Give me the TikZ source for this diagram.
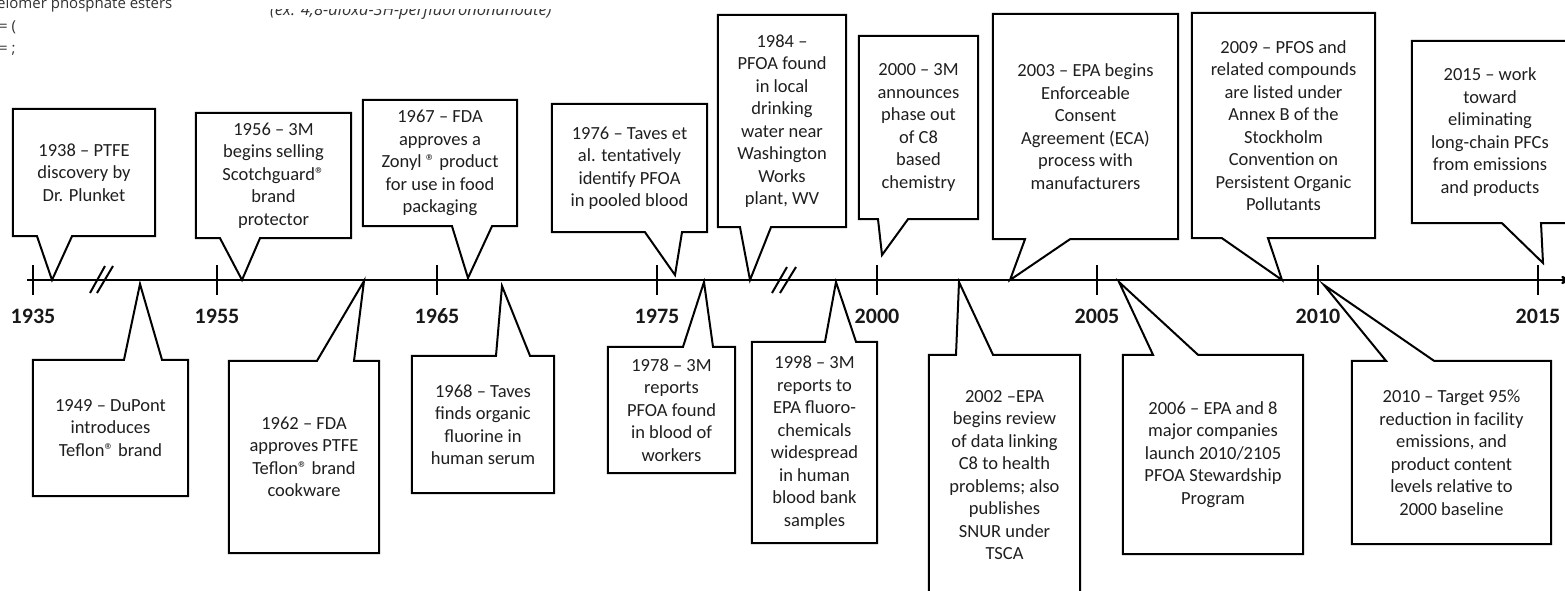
\documentclass[tikz,border=0pt]{standalone}
\usepackage{fontspec}
\setmainfont{Carlito}
\newfontfamily\scrapfont{Open Sans}
\usepackage{tikz}
\usetikzlibrary{positioning, arrows.meta, arrows}

\newcommand{\abovecallout}[4]{\draw[outline] (#1.south west) -- (#2,0 |- #1.south) -- (#4) -- (#3,0 |- #1.south) -- (#1.south east) -- (#1.north east) -- (#1.north west) -- cycle;}
\newcommand{\belowcallout}[4]{\draw[outline] (#1.north west) -- (#2,0 |- #1.north) -- (#4) -- (#3,0 |- #1.north) -- (#1.north east) -- (#1.south east) -- (#1.south west) -- cycle;}

\begin{document}
\begin{tikzpicture}[x=1pt,y=-1pt,>=stealth',
    outline/.style={line width=2pt,line join=miter},
    event/.style={inner sep=0pt,align=center,text=black!88,font=\fontsize{18.5}{22.5}\selectfont},
    year/.style={inner sep=0pt,text height=14pt,text depth=0pt,text=black!90,font=\fontsize{22}{24}\selectfont\bfseries},
    tick/.style={line width=2pt},
    scrap/.style={inner sep=0pt,text=black!80,font=\scrapfont\fontsize{15}{17}\selectfont}]
    \useasboundingbox[fill=white] (0,0) rectangle (1565,590);

    \node[scrap,anchor=base west] (frag1) at (-3,8) {elomer phosphate esters};
    \node[scrap,anchor=base west] (frag2) at (-1,31) {= (};
    \node[scrap,anchor=base west] (frag3) at (-1,53) {= ;};
    \begin{scope}
        \clip (250,9) rectangle (580,30);
        \node[scrap,anchor=base west,font=\scrapfont\itshape\fontsize{16.5}{18}\selectfont] (frag4) at (270,15) {(ex. 4,8-dioxa-3H-perfluorononanoate)};
    \end{scope}

    \coordinate (start) at (27,280);
    \coordinate (end) at (1571,280);
    \draw[line width=2.2pt,->] (start) -- (end);

    \foreach \yr/\px in {1935/33,1955/217,1965/437,1975/657,2000/877,2005/1097,2010/1318,2015/1538}{
        \coordinate (y\yr) at (\px,280);
        \draw[tick] (\px,265) -- (\px,295);
        \node[year,below=29pt of y\yr] (l\yr) {\yr};
    }
    \draw[tick] (90,293) -- (105,266) (97,293) -- (113,266);
    \draw[tick] (772,293) -- (787,267) (780,293) -- (796,267);

    \node[event,minimum width=142pt,minimum height=127pt] (a38) at (84,172.5) {1938 – PTFE\\discovery by\\Dr. Plunket};
    \node[event,minimum width=155pt,minimum height=125pt] (a56) at (273.5,175.5) {1956 – 3M\\begins selling\\Scotchguard®\\brand\\protector};
    \node[event,minimum width=154pt,minimum height=126pt] (a67) at (440,163) {1967 – FDA\\approves a\\Zonyl ® product\\for use in food\\packaging};
    \node[event,minimum width=155pt,minimum height=128pt] (a76) at (629.5,168) {1976 – Taves et\\al. tentatively\\identify PFOA\\in pooled blood};
    \node[event,minimum width=128pt,minimum height=212pt] (a84) at (782,121) {1984 –\\PFOA found\\in local\\drinking\\water near\\Washington\\Works\\plant, WV};
    \node[event,minimum width=119pt,minimum height=183pt] (a00) at (918.5,127.5) {2000 – 3M\\announces\\phase out\\of C8\\based\\chemistry};
    \node[event,minimum width=185pt,minimum height=225pt] (a03) at (1085.5,126.5) {2003 – EPA begins\\Enforceable\\Consent\\Agreement (ECA)\\process with\\manufacturers};
    \node[event,minimum width=183pt,minimum height=225pt] (a09) at (1283.5,125.5) {2009 – PFOS and\\related compounds\\are listed under\\Annex B of the\\Stockholm\\Convention on\\Persistent Organic\\Pollutants};
    \node[event,minimum width=156pt,minimum height=182pt] (a15) at (1490,132) {2015 – work\\toward\\eliminating\\long-chain PFCs\\from emissions\\and products};

    \node[event,minimum width=155pt,minimum height=136pt] (b49) at (110.5,428) {1949 – DuPont\\introduces\\Teflon® brand};
    \node[event,minimum width=150pt,minimum height=192pt] (b62) at (304,457) {1962 – FDA\\approves PTFE\\Teflon® brand\\cookware};
    \node[event,minimum width=142pt,minimum height=137pt] (b68) at (483,424.5) {1968 – Taves\\finds organic\\fluorine in\\human serum};
    \node[event,minimum width=127pt,minimum height=126pt] (b78) at (671.5,410) {1978 – 3M\\reports\\PFOA found\\in blood of\\workers};
    \node[event,minimum width=125pt,minimum height=201pt] (b98) at (814.5,442.5) {1998 – 3M\\reports to\\EPA fluoro-\\chemicals\\widespread\\in human\\blood bank\\samples};
    \node[event,minimum width=151pt,minimum height=240pt] (b02) at (1004.5,475) {2002 –EPA\\begins review\\of data linking\\C8 to health\\problems; also\\publishes\\SNUR under\\TSCA};
    \node[event,minimum width=180pt,minimum height=199pt] (b06) at (1213,454.5) {2006 – EPA and 8\\major companies\\launch 2010/2105\\PFOA Stewardship\\Program};
    \node[event,minimum width=199pt,minimum height=183pt] (b10) at (1451.5,452.5) {2010 – Target 95\%\\reduction in facility\\emissions, and\\product content\\levels relative to\\2000 baseline};

    \coordinate (p38) at (52,280);
    \coordinate (p56) at (242,280);
    \coordinate (p67) at (468,278);
    \coordinate (p76) at (675,275);
    \coordinate (p84) at (750,280);
    \coordinate (p00) at (882,255);
    \coordinate (p03) at (1010,280);
    \coordinate (p09) at (1282,280);
    \coordinate (p15) at (1543,263);
    \coordinate (q49) at (140,284);
    \coordinate (q62) at (364,281);
    \coordinate (q68) at (502,286);
    \coordinate (q78) at (704,282);
    \coordinate (q98) at (836,282);
    \coordinate (q02) at (959,282);
    \coordinate (q06) at (1119,282);
    \coordinate (q10) at (1324,285);

    \abovecallout{a38}{37}{72}{p38}
    \abovecallout{a56}{220}{260}{p56}
    \abovecallout{a67}{452}{492}{p67}
    \abovecallout{a76}{645}{682}{p76}
    \abovecallout{a84}{740}{771}{p84}
    \abovecallout{a00}{878}{908}{p00}
    \abovecallout{a03}{1025}{1070}{p03}
    \abovecallout{a09}{1222}{1268}{p09}
    \abovecallout{a15}{1502}{1541}{p15}
    \belowcallout{b49}{124}{162}{q49}
    \belowcallout{b62}{317}{354}{q62}
    \belowcallout{b68}{496}{530}{q68}
    \belowcallout{b78}{683}{713}{q78}
    \belowcallout{b98}{825}{856}{q98}
    \belowcallout{b02}{956}{993}{q02}
    \belowcallout{b06}{1153}{1198}{q06}
    \belowcallout{b10}{1386}{1434}{q10}
\end{tikzpicture}
\end{document}
